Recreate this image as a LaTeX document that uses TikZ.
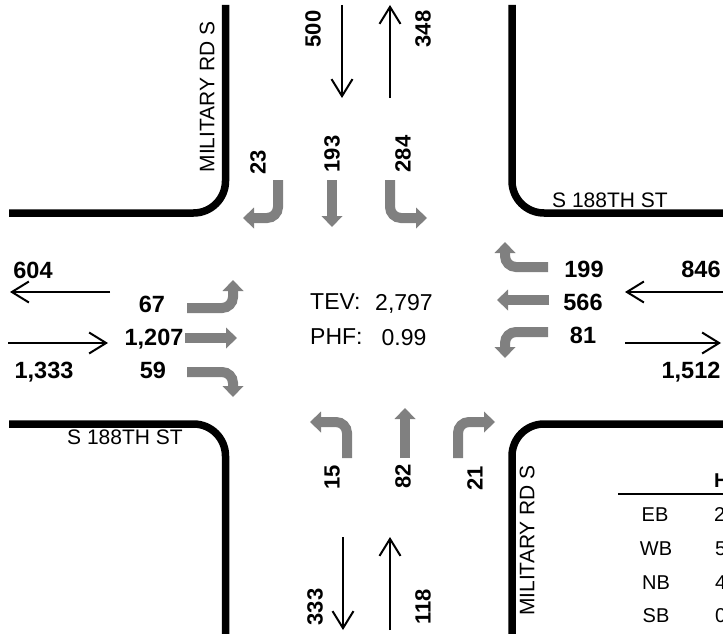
\documentclass[tikz,border=0pt]{standalone}
\usepackage{fontspec}
\setmainfont{Liberation Sans}
\usetikzlibrary{arrows.meta}
\definecolor{mvgray}{HTML}{808080}
\tikzset{
  curb/.style={line width=7.5pt, rounded corners=32pt},
  flow/.style={line width=2pt, -{Straight Barb[length=17pt,width=21pt]}},
  mv/.style={line width=10pt, draw=mvgray, rounded corners=11pt, -{Triangle[length=11pt,width=21pt,line width=0pt]}},
  num/.style={font=\bfseries\fontsize{22}{22}\selectfont, inner sep=0pt, text depth=0pt},
  numh/.style={font=\bfseries\fontsize{23.5}{23.5}\selectfont, inner sep=0pt, text depth=0pt},
  lbl/.style={font=\fontsize{21}{21}\selectfont, inner sep=0pt, text depth=0pt},
  ctr/.style={font=\fontsize{23}{23}\selectfont, inner sep=0pt, text depth=0pt},
  tbl/.style={font=\fontsize{20}{20}\selectfont, inner sep=0pt, text depth=0pt},
  tblh/.style={font=\bfseries\fontsize{20}{20}\selectfont, inner sep=0pt, text depth=0pt},
}
\begin{document}
\begin{tikzpicture}[x=1pt,y=-1pt]
\clip (0,0) rectangle (723,634);
\fill[white] (0,0) rectangle (723,634);
% curbs
\draw[curb] (225.5,5) -- (225.5,213) -- (9,213);
\draw[curb] (512,5) -- (512,213) -- (730,213);
\draw[curb] (9,424) -- (225.5,424) -- (225.5,640);
\draw[curb] (730,424) -- (512,424) -- (512,640);
% street names
\node[lbl, rotate=90] (mnw) at (207,97) {MILITARY RD S};
\node[lbl] (sne) at (610,200) {S 188TH ST};
\node[lbl] (ssw) at (125,437.5) {S 188TH ST};
\node[lbl, rotate=90] (mse) at (527,540.5) {MILITARY RD S};
% approach / departure volumes
\draw[flow] (342,5) -- (342,98);
\draw[flow] (390,98) -- (390,5);
\draw[flow] (110,292) -- (10,292);
\draw[flow] (8,343) -- (108,343);
\draw[flow] (730,292) -- (625,292);
\draw[flow] (625,343) -- (721,343);
\draw[flow] (343,537) -- (343,630);
\draw[flow] (390,630) -- (390,537);
\node[num, rotate=90] (v500) at (313,29) {500};
\node[num, rotate=90] (v348) at (423,29) {348};
\node[numh] (v604) at (33,270) {604};
\node[numh] (v1333) at (44,370) {1,333};
\node[numh] (v846) at (701,269) {846};
\node[numh] (v1512) at (691,370) {1,512};
\node[num, rotate=90] (v333) at (315,607) {333};
\node[num, rotate=90] (v118) at (423,607) {118};
% turning movements
\draw[mv] (278,180) -- (278,218) -- (243,218);
\draw[mv] (332,180) -- (332,227);
\draw[mv] (390,180) -- (390,218) -- (427,218);
\draw[mv] (187,308) -- (233,308) -- (233,280);
\draw[mv] (185,338) -- (237,338);
\draw[mv] (187,372) -- (233,372) -- (233,397);
\draw[mv] (548,267) -- (505,267) -- (505,242);
\draw[mv] (549,300) -- (497,300);
\draw[mv] (548,332) -- (505,332) -- (505,358);
\draw[mv] (347,458) -- (347,422) -- (310,422);
\draw[mv] (405,458) -- (405,408);
\draw[mv] (458,458) -- (458,422) -- (495,422);
\node[num, rotate=90] (m23) at (258,162) {23};
\node[num, rotate=90] (m193) at (332,154) {193};
\node[num, rotate=90] (m284) at (403,154) {284};
\node[numh] (m67) at (152,304) {67};
\node[numh] (m1207) at (154,337) {1,207};
\node[numh] (m59) at (153,370) {59};
\node[numh] (m199) at (584,269) {199};
\node[numh] (m566) at (583,302) {566};
\node[numh] (m81) at (583,335) {81};
\node[num, rotate=90] (m15) at (332,477) {15};
\node[num, rotate=90] (m82) at (403,476) {82};
\node[num, rotate=90] (m21) at (475,478) {21};
% center info
\node[ctr, anchor=west] (tevl) at (310,302) {TEV:};
\node[ctr] (tevv) at (404,302) {2,797};
\node[ctr, anchor=west] (phfl) at (310,337) {PHF:};
\node[ctr] (phfv) at (404,337) {0.99};
% table (cut off at the right edge, as in the reference)
\node[tblh, anchor=west] (th) at (714,481) {HV\%};
\draw[line width=2.5pt] (618,494) -- (730,494);
\node[tbl] (teb) at (655,515) {EB};
\node[tbl] (twb) at (656,549) {WB};
\node[tbl] (tnb) at (656,583) {NB};
\node[tbl] (tsb) at (656,616) {SB};
\node[tbl, anchor=west] (veb) at (714,515) {2};
\node[tbl, anchor=west] (vwb) at (715,549) {5};
\node[tbl, anchor=west] (vnb) at (715,583) {4};
\node[tbl, anchor=west] (vsb) at (715,616) {0};
\end{tikzpicture}
\end{document}
